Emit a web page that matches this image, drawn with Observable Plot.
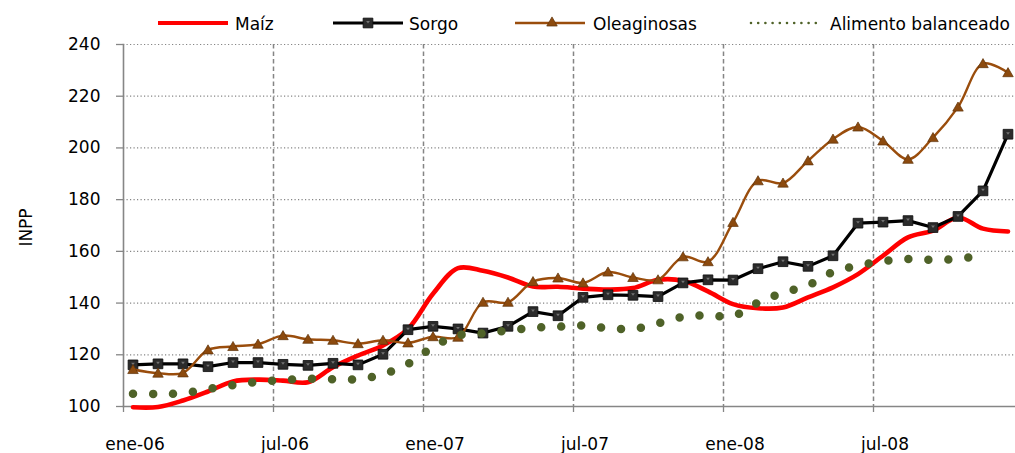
<!DOCTYPE html>
<html>
<head>
<meta charset="utf-8">
<script src="https://cdn.jsdelivr.net/npm/d3@7"></script>
<script src="https://cdn.jsdelivr.net/npm/@observablehq/plot@0.6"></script>
<style>
  html, body { margin: 0; padding: 0; background: #fff; }
  body { font-family: "DejaVu Sans", sans-serif; width: 1015px; overflow: hidden; position: relative; }
  #legend { position: absolute; left: 0; top: 0; z-index: 2; display: block; overflow: visible; }
  #chart { padding-top: 30px; }
  #chart svg { display: block; }
</style>
</head>
<body>
<svg id="legend" width="1015" height="40"></svg>
<div id="chart"></div>
<script>
// ---- Data ----
const months = [
  "ene-06","feb-06","mar-06","abr-06","may-06","jun-06","jul-06","ago-06","sep-06","oct-06","nov-06","dic-06",
  "ene-07","feb-07","mar-07","abr-07","may-07","jun-07","jul-07","ago-07","sep-07","oct-07","nov-07","dic-07",
  "ene-08","feb-08","mar-08","abr-08","may-08","jun-08","jul-08","ago-08","sep-08","oct-08","nov-08","dic-08"
];
const maiz = [99.7, 99.8, 102.3, 105.8, 109.7, 110.4, 110.0, 109.4, 115.2, 119.7, 123.6, 130.0,
  143.6, 153.5, 152.5, 149.9, 146.4, 146.3, 145.6, 145.2, 145.8, 149.0, 148.6, 144.5,
  139.6, 138.0, 138.3, 142.2, 146.1, 151.2, 158.3, 165.4, 168.0, 173.1, 168.8, 167.7];
const sorgo = [116.1, 116.5, 116.5, 115.4, 117.0, 117.0, 116.3, 115.9, 116.7, 116.1, 120.2, 129.7,
  131.0, 130.0, 128.4, 131.0, 136.7, 135.1, 142.2, 143.2, 143.0, 142.5, 147.8, 149.0,
  148.9, 153.3, 156.0, 154.2, 158.3, 170.9, 171.3, 171.9, 169.2, 173.5, 183.4, 205.3];
const oleaginosas = [114.3, 112.9, 113.0, 121.9, 123.2, 124.1, 127.4, 126.0, 125.6, 124.3, 125.6, 124.6,
  127.0, 126.8, 140.3, 140.3, 148.3, 149.7, 147.8, 152.0, 149.9, 149.0, 157.9, 156.0,
  171.2, 187.3, 186.4, 195.0, 203.4, 208.1, 202.7, 195.6, 204.0, 215.8, 232.6, 229.1];
const alimento = [104.9, 104.9, 105.2, 106.8, 108.3, 109.5, 110.2, 110.7, 110.5, 110.6, 112.5, 116.5,
  123.0, 127.5, 128.3, 129.4, 130.4, 130.9, 131.3, 130.3, 130.0, 132.2, 134.7, 135.2,
  135.0, 140.2, 144.0, 146.9, 152.0, 154.5, 156.2, 157.0, 156.7, 157.1, 158.5];
const yTicks = [100, 120, 140, 160, 180, 200, 220, 240];
const labelMonths = [0, 6, 12, 18, 24, 30];
const seriesNames = ["Maíz", "Sorgo", "Oleaginosas", "Alimento balanceado"];

// ---- Layout / style ----
const boundaryShift = -0.38;               // month boundaries sit just left of each point
const boundaries = [0, 6, 12, 18, 24, 30].map(m => m + boundaryShift);
const gridBoundaries = boundaries.slice(1);
const C = {maiz: "#FF0000", sorgo: "#000000", ole: "#9A4D0C", oleFill: "#8C4A0E", ali: "#4F6228", axis: "#868686", grid: "#858585"};

const rows = vals => vals.map((v, i) => ({i, v}));
const maizRows = rows(maiz), sorgoRows = rows(sorgo), oleRows = rows(oleaginosas), aliRows = rows(alimento);

const downTri = {draw(ctx, size) {
  const s = Math.sqrt(size);
  ctx.moveTo(-s / 2, -s / 3); ctx.lineTo(s / 2, -s / 3); ctx.lineTo(0, s / 3); ctx.closePath();
}};

const chart = Plot.plot({
  width: 1015,
  height: 423,
  marginLeft: 123,
  marginRight: 0,
  marginTop: 14,
  marginBottom: 47,
  x: {domain: [boundaryShift, 35.3]},
  y: {domain: [100, 240]},
  style: {fontFamily: "DejaVu Sans, sans-serif", fontSize: "17px", color: "#000", background: "#fff", overflow: "visible"},
  marks: [
    Plot.gridY(yTicks.filter(v => v > 100), {stroke: C.grid, strokeOpacity: 1, strokeWidth: 1.2, strokeDasharray: "1.2 2.3"}),
    Plot.gridX(gridBoundaries, {stroke: C.grid, strokeOpacity: 1, strokeWidth: 1.5, strokeDasharray: "4.5 3"}),
    Plot.frame({anchor: "left", stroke: C.axis, strokeWidth: 1.6}),
    Plot.frame({anchor: "bottom", stroke: C.axis, strokeWidth: 1.6}),
    Plot.axisY(yTicks, {tickSize: 7, tickPadding: 16, stroke: C.axis, strokeWidth: 1.3, fill: "#000", label: null}),
    Plot.axisX(boundaries, {tickSize: 6, stroke: C.axis, strokeWidth: 1.3, fill: "none", label: null}),
    Plot.axisX(labelMonths, {tickSize: 0, tickPadding: 31, dx: 2, tickFormat: i => months[i], fill: "#000", label: null}),
    Plot.text(["INPP"], {frameAnchor: "left", rotate: -90, dx: -96.5, dy: 2, textAnchor: "middle", lineAnchor: "middle", fill: "#000"}),
    // Maíz
    Plot.line(maizRows, {x: "i", y: "v", stroke: C.maiz, strokeWidth: 4.6, curve: "catmull-rom"}),
    // Sorgo
    Plot.line(sorgoRows, {x: "i", y: "v", stroke: C.sorgo, strokeWidth: 3.2}),
    Plot.dot(sorgoRows, {x: "i", y: "v", symbol: "square", r: 5.5, fill: "#2b2b2b", stroke: "#0d0d0d", strokeWidth: 0.8}),
    Plot.dot(sorgoRows, {x: "i", y: "v", symbol: downTri, r: 2.1, dy: -0.8, fill: "#737373", stroke: "none"}),
    // Oleaginosas
    Plot.line(oleRows, {x: "i", y: "v", stroke: C.ole, strokeWidth: 2.4, curve: "catmull-rom"}),
    Plot.dot(oleRows, {x: "i", y: "v", symbol: "triangle", r: 3.9, dy: 1, fill: C.oleFill, stroke: "#5e3208", strokeWidth: 0.7}),
    // Alimento balanceado
    Plot.line(aliRows, {x: "i", y: "v", stroke: C.ali, strokeWidth: 8.5, strokeDasharray: "0 20", strokeLinecap: "round", curve: "catmull-rom"})
  ]
});
document.getElementById("chart").appendChild(chart);

// ---- Legend ----
const lg = d3.select("#legend");
const items = [
  {name: seriesNames[0], x: 158, tx: 235},
  {name: seriesNames[1], x: 333, tx: 409},
  {name: seriesNames[2], x: 515, tx: 593},
  {name: seriesNames[3], x: 750, tx: 830}
];
const ly = 23;
// Maíz
lg.append("line").attr("x1", items[0].x).attr("x2", items[0].x + 70).attr("y1", ly).attr("y2", ly)
  .attr("stroke", C.maiz).attr("stroke-width", 4);
// Sorgo
lg.append("line").attr("x1", items[1].x).attr("x2", items[1].x + 70).attr("y1", ly).attr("y2", ly)
  .attr("stroke", C.sorgo).attr("stroke-width", 3);
lg.append("path").attr("transform", `translate(${items[1].x + 35},${ly})`)
  .attr("d", d3.symbol(d3.symbolSquare, 95)()).attr("fill", "#2b2b2b").attr("stroke", "#0d0d0d").attr("stroke-width", 0.8);
lg.append("path").attr("transform", `translate(${items[1].x + 35},${ly - 0.8})`)
  .attr("d", d3.symbol(downTri, 14)()).attr("fill", "#737373");
// Oleaginosas
lg.append("line").attr("x1", items[2].x).attr("x2", items[2].x + 70).attr("y1", ly).attr("y2", ly)
  .attr("stroke", C.ole).attr("stroke-width", 2.4);
lg.append("path").attr("transform", `translate(${items[2].x + 37},${ly})`)
  .attr("d", d3.symbol(d3.symbolTriangle, 48)()).attr("fill", C.oleFill).attr("stroke", "#5e3208").attr("stroke-width", 0.7);
// Alimento
lg.append("line").attr("x1", items[3].x + 1).attr("x2", items[3].x + 70).attr("y1", ly).attr("y2", ly)
  .attr("stroke", C.ali).attr("stroke-width", 2.6).attr("stroke-dasharray", "0 7.2").attr("stroke-linecap", "round");
lg.selectAll("text.lab").data(items).join("text").attr("class", "lab")
  .attr("x", d => d.tx).attr("y", 30).attr("font-family", "DejaVu Sans, sans-serif").attr("font-size", 17)
  .attr("fill", "#000").text(d => d.name);
</script>
</body>
</html>
